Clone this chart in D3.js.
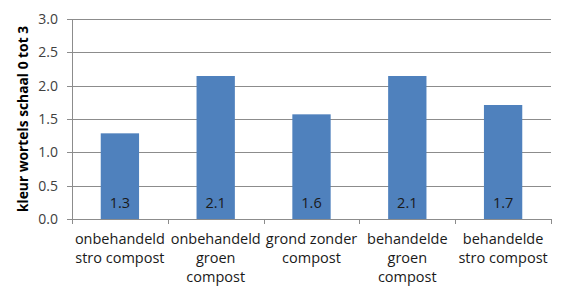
<!DOCTYPE html>
<html>
<head>
<meta charset="utf-8">
<script src="https://cdn.jsdelivr.net/npm/d3@7"></script>
<style>
  body { margin: 0; background: #fff; }
  text { font-family: "Open Sans", "Noto Sans", sans-serif; }
</style>
</head>
<body>
<div class="chart"></div>
<script>
// data
const categories = [
  ["onbehandeld", "stro compost"],
  ["onbehandeld", "groen", "compost"],
  ["grond zonder", "compost"],
  ["behandelde", "groen", "compost"],
  ["behandelde", "stro compost"]
];
const values = [1.285, 2.145, 1.57, 2.145, 1.71];
const valueLabels = ["1.3", "2.1", "1.6", "2.1", "1.7"];
const yTicks = [0, 0.5, 1, 1.5, 2, 2.5, 3];
const yTitle = "kleur wortels schaal 0 tot 3";

const width = 565, height = 287;
const margin = {top: 19, right: 14, bottom: 68, left: 72};

const svg = d3.select(".chart")
    .append("svg")
    .attr("width", width)
    .attr("height", height);

const x = d3.scaleBand()
    .domain(d3.range(categories.length))
    .range([margin.left, width - margin.right])
    .paddingInner(0.6)
    .paddingOuter(0.3);

const y = d3.scaleLinear()
    .domain([0, 3])
    .range([height - margin.bottom, margin.top]);

const step = x.step();
const x0 = margin.left, x1 = width - margin.right;

// gridlines
svg.append("g").selectAll("line")
    .data(yTicks.slice(1))
    .enter().append("line")
    .attr("x1", x0).attr("x2", x1)
    .attr("y1", d => Math.round(y(d)) + 0.5)
    .attr("y2", d => Math.round(y(d)) + 0.5)
    .attr("stroke", "#8c8c8c");

// bars
svg.append("g").selectAll("rect")
    .data(values)
    .enter().append("rect")
    .attr("x", (d, i) => x(i))
    .attr("y", d => y(d))
    .attr("width", x.bandwidth())
    .attr("height", d => y(0) - y(d))
    .attr("fill", "#4f81bd");

// value labels
svg.append("g").selectAll("text")
    .data(valueLabels)
    .enter().append("text")
    .attr("x", (d, i) => x(i) + x.bandwidth() / 2)
    .attr("y", y(0) - 11)
    .attr("text-anchor", "middle")
    .attr("font-size", 14.5)
    .attr("fill", "#1a1a1a")
    .text(d => d);

// y axis
const yAxis = svg.append("g");
yAxis.append("line")
    .attr("x1", x0 + 0.5).attr("x2", x0 + 0.5)
    .attr("y1", y(3)).attr("y2", y(0))
    .attr("stroke", "#8c8c8c");
yAxis.selectAll(".tick")
    .data(yTicks)
    .enter().append("line")
    .attr("x1", x0 - 5).attr("x2", x0)
    .attr("y1", d => Math.round(y(d)) + 0.5)
    .attr("y2", d => Math.round(y(d)) + 0.5)
    .attr("stroke", "#8c8c8c");
yAxis.selectAll("text")
    .data(yTicks)
    .enter().append("text")
    .attr("x", x0 - 14)
    .attr("y", d => y(d))
    .attr("dy", "0.35em")
    .attr("text-anchor", "end")
    .attr("font-size", 14)
    .attr("fill", "#404040")
    .text(d => d3.format(".1f")(d));

// x axis
const xAxis = svg.append("g");
xAxis.append("line")
    .attr("x1", x0).attr("x2", x1)
    .attr("y1", Math.round(y(0)) + 0.5).attr("y2", Math.round(y(0)) + 0.5)
    .attr("stroke", "#8c8c8c");
xAxis.selectAll(".tick")
    .data(d3.range(categories.length + 1))
    .enter().append("line")
    .attr("x1", d => Math.round(x0 + d * step) + 0.5)
    .attr("x2", d => Math.round(x0 + d * step) + 0.5)
    .attr("y1", y(0)).attr("y2", y(0) + 5)
    .attr("stroke", "#8c8c8c");

const labels = xAxis.selectAll(".lab")
    .data(categories)
    .enter().append("text")
    .attr("x", (d, i) => x(i) + x.bandwidth() / 2)
    .attr("y", y(0) + 25)
    .attr("text-anchor", "middle")
    .attr("font-size", 14.5)
    .attr("fill", "#1a1a1a");
labels.selectAll("tspan")
    .data(d => d)
    .enter().append("tspan")
    .attr("x", function () { return this.parentNode.getAttribute("x"); })
    .attr("dy", (d, i) => i === 0 ? 0 : 19)
    .text(d => d);

// y title
svg.append("text")
    .attr("transform", `translate(28,${(y(0) + y(3)) / 2}) rotate(-90)`)
    .attr("text-anchor", "middle")
    .attr("font-size", 13.8)
    .attr("font-weight", "bold")
    .attr("fill", "#000")
    .text(yTitle);
</script>
</body>
</html>
